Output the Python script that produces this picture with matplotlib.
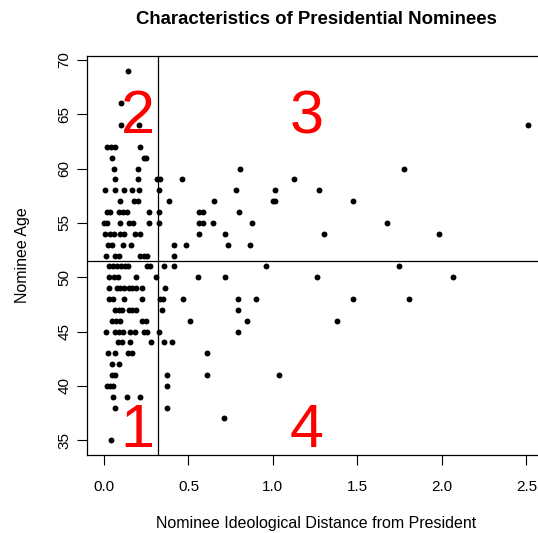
import matplotlib
matplotlib.use("Agg")
import matplotlib.pyplot as plt

plt.rcParams['font.family'] = ['Liberation Sans', 'DejaVu Sans']

# nominee age -> ideological distances observed at that age
rows = {
    69: [0.142],
    66: [0.101],
    64: [0.101, 0.205, 2.508],
    62: [0.018, 0.041, 0.067, 0.211],
    61: [0.047, 0.235, 0.251],
    60: [0.057, 0.2, 0.806, 1.775],
    59: [0.067, 0.201, 0.314, 0.33, 0.462, 1.127],
    58: [0.008, 0.067, 0.12, 0.166, 0.205, 0.328, 0.782, 1.013, 1.272],
    57: [0.097, 0.176, 0.201, 0.387, 0.652, 1.003, 1.015, 1.475],
    56: [0.018, 0.037, 0.087, 0.111, 0.136, 0.265, 0.328, 0.565, 0.585, 0.802],
    55: [0.0, 0.018, 0.097, 0.15, 0.172, 0.265, 0.328, 0.565, 0.585, 0.644, 0.877, 1.675],
    54: [0.008, 0.034, 0.057, 0.097, 0.117, 0.185, 0.211, 0.565, 0.717, 1.301, 1.983],
    53: [0.022, 0.047, 0.113, 0.162, 0.413, 0.488, 0.733, 0.865],
    52: [0.014, 0.067, 0.091, 0.215, 0.239, 0.255, 0.413],
    51: [0.028, 0.052, 0.077, 0.101, 0.126, 0.14, 0.255, 0.274, 0.357, 0.413, 0.96, 1.744],
    50: [0.028, 0.057, 0.081, 0.19, 0.308, 0.555, 0.715, 1.262, 2.066],
    49: [0.028, 0.077, 0.097, 0.12, 0.146, 0.166, 0.191, 0.225, 0.359],
    48: [0.028, 0.053, 0.117, 0.225, 0.334, 0.35, 0.466, 0.792, 0.902, 1.475, 1.807],
    47: [0.067, 0.087, 0.107, 0.146, 0.166, 0.191, 0.344, 0.792],
    46: [0.047, 0.071, 0.097, 0.225, 0.251, 0.511, 0.845, 1.378],
    45: [0.014, 0.067, 0.087, 0.113, 0.156, 0.185, 0.235, 0.255, 0.328, 0.792],
    44: [0.081, 0.107, 0.156, 0.28, 0.354, 0.403],
    43: [0.022, 0.067, 0.142, 0.166, 0.61],
    42: [0.047, 0.087],
    41: [0.047, 0.067, 0.373, 0.61, 1.035],
    40: [0.018, 0.037, 0.053, 0.373],
    39: [0.053, 0.136, 0.215],
    38: [0.067, 0.373],
    37: [0.711],
    35: [0.043],
}

distance = []
age = []
for a, xs in rows.items():
    for x in xs:
        distance.append(x)
        age.append(a)

mean_age = 51.5
mean_dist = 0.32

quadrant_labels = ["1", "2", "3", "4"]
quadrant_x = [0.2, 0.2, 1.2, 1.2]
quadrant_y = [35.8, 64.7, 64.7, 35.8]

fig = plt.figure(figsize=(5.38, 5.33), dpi=100)
ax = fig.add_axes([87 / 538, 78 / 533, 458 / 538, 399 / 533])

ax.scatter(distance, age, s=18, color='black', linewidths=0, zorder=3)
ax.axhline(mean_age, color='black', lw=0.9)
ax.axvline(mean_dist, color='black', lw=0.9)

for lab, qx, qy in zip(quadrant_labels, quadrant_x, quadrant_y):
    ax.text(qx, qy, lab, color='red', fontsize=44, ha='center', va='center')

ax.set_xlim(-0.1004, 2.6104)
ax.set_ylim(33.64, 70.36)
ax.set_xticks([0.0, 0.5, 1.0, 1.5, 2.0, 2.5])
ax.set_xticklabels(["0.0", "0.5", "1.0", "1.5", "2.0", "2.5"])
ax.set_yticks([35, 40, 45, 50, 55, 60, 65, 70])
ax.tick_params(axis='both', direction='out', length=7, width=0.8, labelsize=11)
ax.tick_params(axis='x', pad=11)
ax.tick_params(axis='y', pad=4)
for lbl in ax.get_yticklabels():
    lbl.set_rotation(90)
    lbl.set_va('center')
for s in ax.spines.values():
    s.set_linewidth(0.9)

ax.set_title("Characteristics of Presidential Nominees", fontsize=13.4,
             fontweight='bold', pad=23)
ax.set_xlabel("Nominee Ideological Distance from President", fontsize=11.5, labelpad=16)
ax.set_ylabel("Nominee Age", fontsize=11.5, labelpad=20)

fig.savefig("out.png", dpi=100)
